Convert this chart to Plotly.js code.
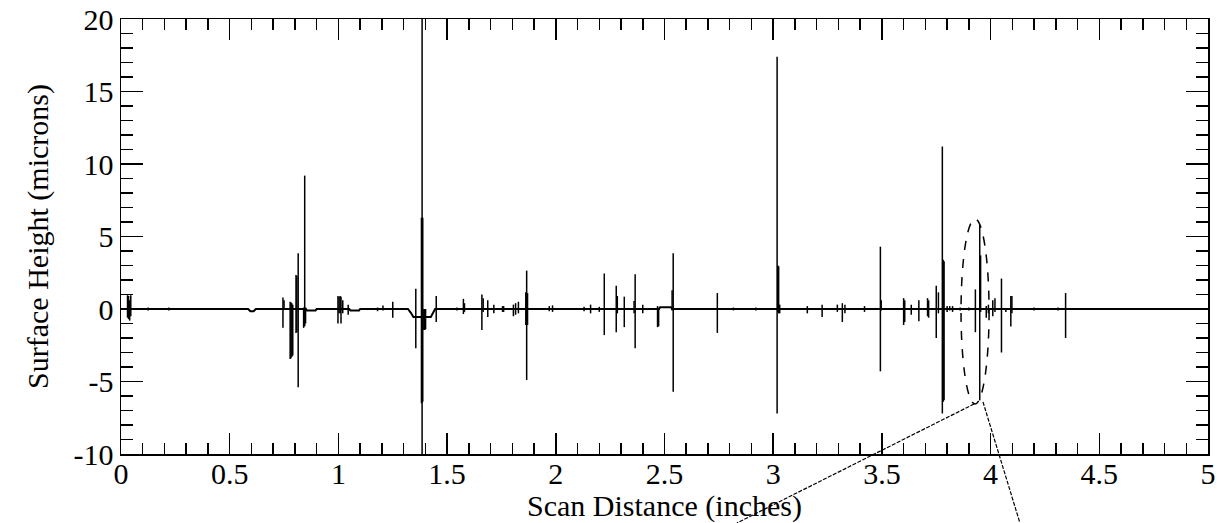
<!DOCTYPE html>
<html>
<head>
<meta charset="utf-8">
<script src="https://cdn.plot.ly/plotly-3.0.1.min.js"></script>
<style>html,body{margin:0;padding:0;background:#fff;}#chart{width:1226px;height:523px;}</style>
</head>
<body>
<div id="chart"></div>
<script>
// Spike positions (inches) with their top and bottom heights (microns)
const spikeX = [0.030,0.035,0.040,0.045,0.125,0.220,0.745,0.750,0.778,0.782,0.786,0.790,0.805,0.809,0.815,0.840,0.845,0.849,
  0.998,1.003,1.008,1.012,1.020,1.045,1.180,1.205,1.250,1.356,1.382,1.385,1.388,1.393,1.397,1.401,1.450,
  1.545,1.575,1.580,1.660,1.666,1.687,1.715,1.755,1.760,1.805,1.815,1.828,1.862,1.866,1.870,1.970,1.985,
  2.130,2.160,2.200,2.223,2.278,2.283,2.315,2.360,2.365,2.400,2.468,2.473,2.535,2.540,2.743,2.817,2.920,
  3.018,3.021,3.025,3.030,3.157,3.225,3.295,3.318,3.330,3.420,3.493,3.497,3.600,3.605,3.635,3.670,3.710,3.715,
  3.750,3.760,3.778,3.782,3.786,3.800,3.812,3.825,3.860,3.900,3.930,3.950,3.954,3.980,3.990,4.010,4.020,
  4.050,4.070,4.093,4.098,4.200,4.310,4.345];
const spikeTop = [0.95,0.9,0.6,0.95,0.1,0.1,0.8,0.6,0.5,0.45,0.4,0.3,2.35,2.3,3.85,0.1,9.2,0.1,
  0.9,0.85,0.9,0.85,0.6,0.3,0.1,0.25,0.5,1.4,6.3,20,6.3,0,0,0,0.9,
  0.1,0.7,0.4,1.0,0.75,0.6,0.3,0.2,0.2,0.3,0.4,0.5,1.15,2.65,1.1,0.2,0.25,
  0.15,0.3,0.15,2.45,1.6,0.9,0.85,0.55,2.4,0.3,0.2,0.1,1.3,3.85,1.1,0.1,0.1,
  17.4,3.0,2.95,0.3,0.2,0.3,0.3,0.4,0.3,0.2,4.3,0.6,0.75,0.6,0.3,0.6,0.75,0.6,
  1.6,1.15,11.2,3.4,3.3,0.2,0.2,0.2,0.1,0.1,1.35,5.8,3.7,0.2,0.3,0.6,0.75,
  2.1,0.05,0.9,0.9,0.1,0.1,1.1];
const spikeBot = [-0.6,-0.7,-0.8,-0.5,-0.1,-0.1,-1.3,0,-3.45,-3.4,-3.3,-3.2,-1.65,-1.6,-5.4,-1.3,-1.2,-1.0,
  -1.0,-0.3,-0.3,-1.0,-0.3,-0.4,-0.15,-0.1,-0.6,-2.7,-6.5,-10,-6.4,-1.45,-1.45,-1.4,-0.9,
  -0.1,-0.35,-0.2,-1.45,-0.2,-0.55,-0.3,-0.2,-0.2,-0.5,-0.4,-0.3,-1.1,-4.9,-1.1,-0.15,-0.2,
  -0.15,-0.3,-0.2,-1.8,-1.6,-0.3,-1.25,-0.3,-2.7,-0.3,-1.25,-1.2,-0.1,-5.7,-1.65,-0.1,-0.1,
  -7.2,-0.2,-0.3,-0.3,-0.3,-0.55,-0.2,-0.9,-0.3,-0.2,-4.3,-0.1,-1.1,-0.9,-0.4,-0.85,-0.5,-0.6,
  -2.0,-0.3,-7.2,-6.4,-6.3,-0.2,-0.1,-0.2,-0.1,-0.1,-1.6,-6.3,-0.2,-0.6,-0.3,-0.5,-0.2,
  -3.0,-0.2,-1.2,-0.3,-0.1,-0.1,-2.0];

// Baseline profile (inches, microns)
const baseX = [0,0.585,0.595,0.61,0.62,0.85,0.855,0.895,0.9,1.05,1.055,1.095,1.1,1.32,1.335,1.345,1.425,1.435,1.445,2.475,2.48,2.53,2.535,5];
const baseY = [0,0,-0.15,-0.15,0,0,-0.1,-0.1,0,0,-0.1,-0.1,0,0,-0.3,-0.55,-0.55,-0.3,0,0,0.12,0.12,0,0];

// Axis tick labels
const yTickVals = [-10,-5,0,5,10,15,20];
const yTickText = ["-10","-5","0","5","10","15","20"];

// Highlight ellipse (data units) and callout lines (start in data units, end at figure bottom)
const ringX = [3.864, 3.993];
const ringY = [-6.55, 6.2];
const calloutStartX = [3.924, 3.965];
const calloutStartY = [-6.55, -6.41];
const calloutEndX = [2.833, 4.135];
const calloutEndY = [-14.76, -14.76];

const xRange = [0,5], yRange = [-10,20];

const sx = [], sy = [];
for (let i = 0; i < spikeX.length; i++) {
  sx.push(spikeX[i], spikeX[i], null);
  sy.push(spikeTop[i], spikeBot[i], null);
}

const toPX = v => (v - xRange[0]) / (xRange[1] - xRange[0]);
const toPY = v => (v - yRange[0]) / (yRange[1] - yRange[0]);

const traces = [
  {x: baseX, y: baseY, mode: 'lines', line: {color: '#000', width: 2}, hoverinfo: 'skip'},
  {x: sx, y: sy, mode: 'lines', line: {color: '#000', width: 1.5}, hoverinfo: 'skip', connectgaps: false}
];

const shapes = [{
  type: 'circle', xref: 'x', yref: 'y',
  x0: ringX[0], x1: ringX[1], y0: ringY[0], y1: ringY[1],
  line: {color: '#000', width: 1.5, dash: 'dash'}
}];
for (let i = 0; i < calloutStartX.length; i++) {
  shapes.push({
    type: 'line', xref: 'paper', yref: 'paper',
    x0: toPX(calloutStartX[i]), y0: toPY(calloutStartY[i]),
    x1: toPX(calloutEndX[i]), y1: toPY(calloutEndY[i]),
    line: {color: '#000', width: 1.2, dash: '4px,1.5px'}
  });
}

const fam = '"Liberation Serif", "Times New Roman", Times, serif';
const fsize = 30;

const layout = {
  width: 1226, height: 523,
  margin: {l: 121, r: 18, t: 19, b: 69},
  paper_bgcolor: '#fff', plot_bgcolor: '#fff',
  showlegend: false,
  font: {family: fam, size: fsize, color: '#000'},
  xaxis: {
    range: xRange, dtick: 0.5, tick0: 0,
    ticks: 'inside', ticklen: 21, tickwidth: 1.5, tickcolor: '#000',
    minor: {ticks: 'inside', ticklen: 11, dtick: 0.1, tick0: 0, tickwidth: 1.5, tickcolor: '#000'},
    showline: true, linecolor: '#000', linewidth: 1.5, mirror: 'ticks',
    showgrid: false, zeroline: false,
    ticklabelstandoff: -8,
    tickfont: {family: fam, size: fsize, color: '#000'},
    title: {text: 'Scan Distance (inches)', font: {family: fam, size: fsize, color: '#000'}, standoff: 3}
  },
  yaxis: {
    range: yRange, tickvals: yTickVals, ticktext: yTickText,
    ticks: 'inside', ticklen: 22, tickwidth: 1.5, tickcolor: '#000',
    minor: {ticks: 'inside', ticklen: 12, dtick: 1, tick0: 0, tickwidth: 1.5, tickcolor: '#000'},
    showline: true, linecolor: '#000', linewidth: 1.5, mirror: 'ticks',
    showgrid: false, zeroline: false,
    tickfont: {family: fam, size: fsize, color: '#000'},
    title: {text: 'Surface Height (microns)', font: {family: fam, size: fsize, color: '#000'}, standoff: 16}
  },
  shapes: shapes
};

Plotly.newPlot('chart', traces, layout, {displayModeBar: false, staticPlot: true});
</script>
</body>
</html>
